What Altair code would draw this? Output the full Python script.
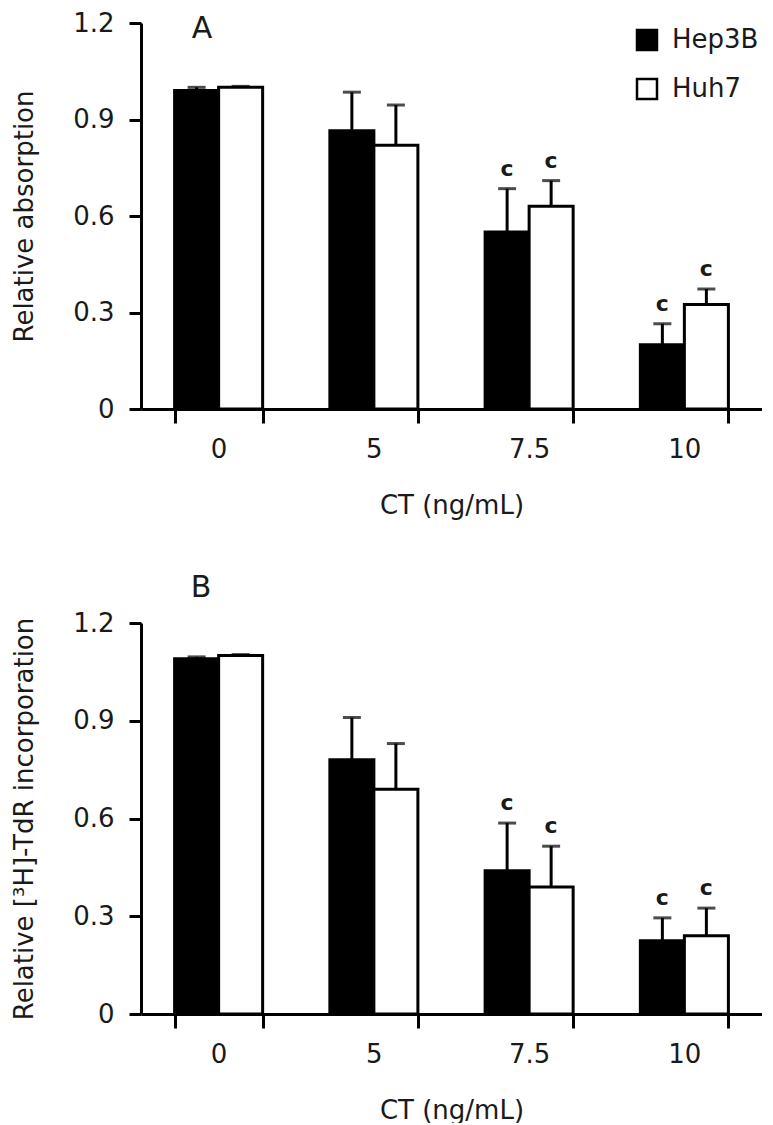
import altair as alt
import pandas as pd

groups = ["0", "5", "7.5", "10"]
series = ["Hep3B", "Huh7"]

# Panel A: relative absorption
a_hep3b = [0.99, 0.865, 0.55, 0.20]
a_hep3b_err = [0.01, 0.12, 0.135, 0.065]
a_huh7 = [1.0, 0.82, 0.63, 0.325]
a_huh7_err = [0.003, 0.125, 0.08, 0.048]
a_hep3b_sig = ["", "", "c", "c"]
a_huh7_sig = ["", "", "c", "c"]

# Panel B: relative [3H]-TdR incorporation
b_hep3b = [1.09, 0.78, 0.44, 0.225]
b_hep3b_err = [0.006, 0.13, 0.146, 0.07]
b_huh7 = [1.10, 0.69, 0.39, 0.24]
b_huh7_err = [0.003, 0.14, 0.125, 0.085]
b_hep3b_sig = ["", "", "c", "c"]
b_huh7_sig = ["", "", "c", "c"]

y_ticks = [0, 0.3, 0.6, 0.9, 1.2]

FONT = "DejaVu Sans"
TXT = "#1a1a1a"


def make_df(h, he, hs, u, ue, us):
    rows = []
    for i, g in enumerate(groups):
        rows.append({"group": g, "series": "Hep3B", "value": h[i], "upper": h[i] + he[i], "sig": hs[i]})
        rows.append({"group": g, "series": "Huh7", "value": u[i], "upper": u[i] + ue[i], "sig": us[i]})
    return pd.DataFrame(rows)


def panel(df, ytitle, letter, letter_x, letter_y, height, legend):
    x = alt.X(
        "group:N",
        sort=groups,
        scale=alt.Scale(paddingInner=0.433, paddingOuter=0.2165),
        axis=alt.Axis(
            title="CT (ng/mL)",
            labelAngle=0,
            tickBand="extent",
            tickSize=14,
            tickWidth=3,
            domainWidth=3,
            labelPadding=13,
            titlePadding=30,
        ),
    )
    xo = alt.XOffset("series:N", sort=series, scale=alt.Scale(paddingInner=0, paddingOuter=0))
    y = alt.Y(
        "value:Q",
        scale=alt.Scale(domain=[0, 1.2], nice=False, zero=True),
        axis=alt.Axis(
            title=ytitle,
            values=y_ticks,
            labelExpr="datum.value == 0 ? '0' : format(datum.value, '.1f')",
            tickSize=12,
            tickWidth=3,
            domainWidth=3,
            labelPadding=15,
            titlePadding=35,
            grid=False,
        ),
    )
    if legend:
        leg = alt.Legend(
            orient="none",
            legendX=493,
            legendY=4,
            title=None,
            symbolType="square",
            symbolSize=400,
            symbolStrokeColor="black",
            symbolStrokeWidth=2.5,
            labelFontSize=26,
            labelFont=FONT,
            labelColor=TXT,
            labelOffset=12,
            rowPadding=19,
        )
    else:
        leg = None
    fill = alt.Fill("series:N", scale=alt.Scale(domain=series, range=["black", "white"]), legend=leg)

    base = alt.Chart(df)
    bars = base.mark_bar(stroke="black", strokeWidth=3).encode(x=x, xOffset=xo, y=y, fill=fill)
    err = base.mark_rule(color="black", strokeWidth=3).encode(x=x, xOffset=xo, y="value:Q", y2="upper:Q")
    cap = base.mark_tick(color="black", thickness=3, size=18).encode(x=x, xOffset=xo, y="upper:Q")
    sig = base.mark_text(font=FONT, fontSize=22, fontWeight="bold", color=TXT, dy=-20).encode(
        x=x, xOffset=xo, y="upper:Q", text="sig:N"
    )
    lab = alt.Chart(pd.DataFrame({"label": [letter]})).mark_text(
        font=FONT, fontSize=30, color=TXT
    ).encode(x=alt.value(letter_x), y=alt.value(letter_y), text="label:N")
    return alt.layer(err, cap, bars, sig, lab).properties(width=621, height=height)


dfa = make_df(a_hep3b, a_hep3b_err, a_hep3b_sig, a_huh7, a_huh7_err, a_huh7_sig)
dfb = make_df(b_hep3b, b_hep3b_err, b_hep3b_sig, b_huh7, b_huh7_err, b_huh7_sig)

pa = panel(dfa, "Relative absorption", "A", 61, 6, 386, True)
pb = panel(dfb, "Relative [³H]-TdR incorporation", "B", 60, -35, 391, False)

chart = (
    alt.vconcat(pa, pb, spacing=55)
    .resolve_scale(fill="independent")
    .resolve_legend(fill="independent")
    .properties(padding={"left": 3, "top": 2, "right": 0, "bottom": 0})
    .configure_view(stroke=None)
    .configure_axis(
        labelFont=FONT,
        titleFont=FONT,
        labelFontSize=26,
        titleFontSize=26,
        titleFontWeight="normal",
        labelColor=TXT,
        titleColor=TXT,
        domainColor="black",
        tickColor="black",
    )
)

chart.save("out.html", embed_options={"renderer": "svg", "actions": False})
